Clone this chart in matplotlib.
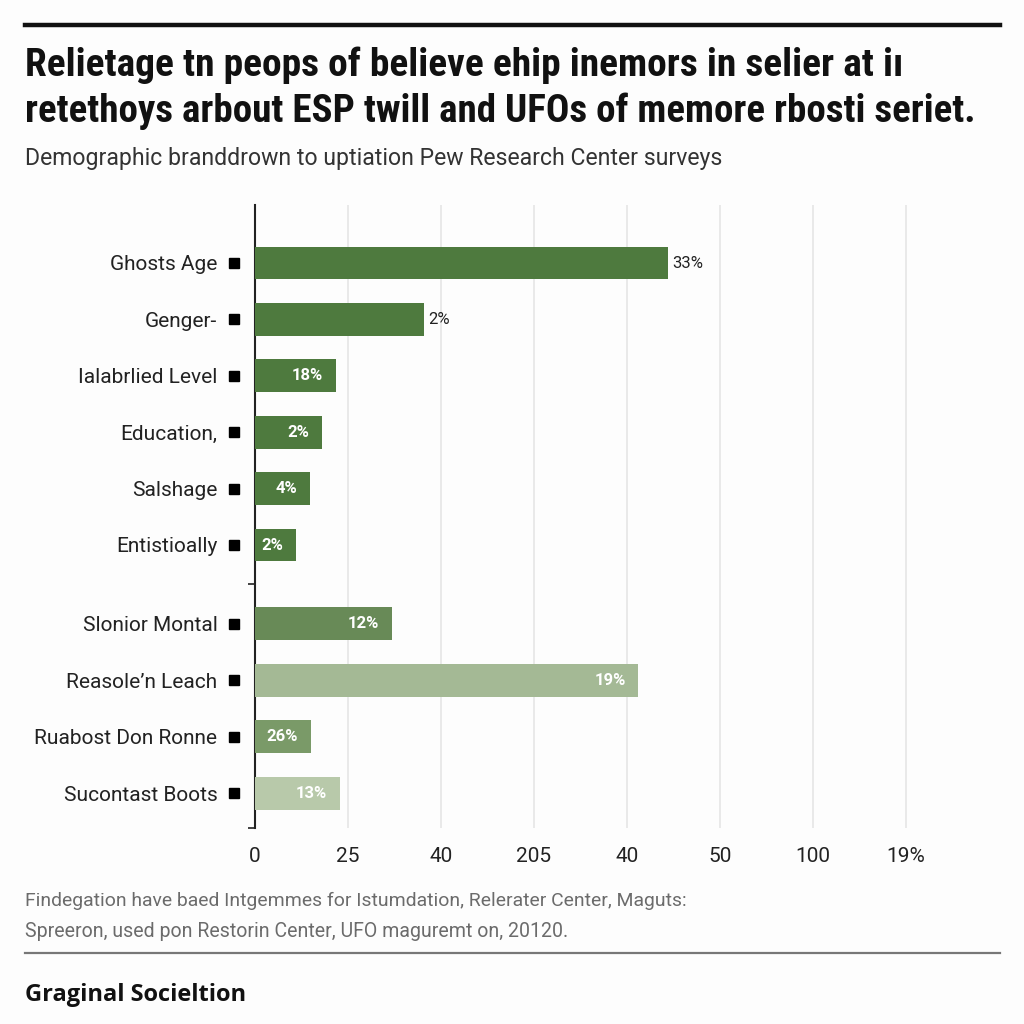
import matplotlib
matplotlib.use("Agg")
import matplotlib.pyplot as plt
from matplotlib import font_manager as fm

# ---------------- data ----------------
categories = ["Ghosts Age", "Genger-", "Ialabrlied Level", "Education,", "Salshage",
              "Entistioally", "Slonior Montal", "Reasole\u2019n Leach", "Ruabost Don Ronne",
              "Sucontast Boots"]
values = [4.44, 1.82, 0.87, 0.72, 0.59, 0.44, 1.47, 4.12, 0.60, 0.91]
value_labels = ["33%", "2%", "18%", "2%", "4%", "2%", "12%", "19%", "26%", "13%"]
tick_labels = ["0", "25", "40", "205", "40", "50", "100", "19%"]
groups = [0, 0, 0, 0, 0, 0, 1, 1, 1, 1]

title_lines = ["Relietage tn peops of believe ehip inemors in selier at i\u0131",
               "retethoys arbout ESP twill and UFOs of memore rbosti seriet."]
subtitle = "Demographic branddrown to uptiation Pew Research Center surveys"
notes = ["Findegation have baed Intgemmes for Istumdation, Relerater Center, Maguts:",
         "Spreeron, used pon Restorin Center, UFO maguremt on, 20120."]
footer = "Graginal Socieltion"

# ---------------- style ----------------
avail = {f.name for f in fm.fontManager.ttflist}
cond_avail = {f.name for f in fm.fontManager.ttflist if f.stretch in ("condensed", "semi-condensed", "extra-condensed", 75, 87)}

def pick(cands, default):
    for c in cands:
        if c in avail:
            return c
    return default

narrow = pick(["Roboto Condensed", "Liberation Sans Narrow", "Open Sans Condensed"], None)
if narrow is None:
    title_kw = dict(family=["Roboto", "DejaVu Sans"])
    if "DejaVu Sans" in cond_avail:
        title_kw = dict(family=["DejaVu Sans"], fontstretch="condensed")
else:
    title_kw = dict(family=[narrow, "DejaVu Sans"])

plt.rcParams["font.family"] = ["Roboto", "DejaVu Sans"]

colors = ["#4e7a3e"] * 6 + ["#688a57", "#a4b995", "#7a9a68", "#b8c9aa"]
inside = [False, False, True, True, True, True, True, True, True, True]

W = H = 1024
fig = plt.figure(figsize=(10.24, 10.24), dpi=100)
fig.patch.set_facecolor("#fdfdfd")

# positions: two groups with a gap
ypos = []
y = 0.0
for i, g in enumerate(groups):
    if i > 0 and g != groups[i - 1]:
        y += 0.4
    ypos.append(y)
    y += 1.0

x0, x1 = 255, 952
ytop, ybot = 205, 828
ax = fig.add_axes([x0 / W, 1 - ybot / H, (x1 - x0) / W, (ybot - ytop) / H])
ax.set_facecolor("none")
ax.set_xlim(0, (x1 - x0) / 93.0)
unit = 56.4
ax.set_ylim((ybot - 263) / unit, -(263 - ytop) / unit)

ax.barh(ypos, values, height=0.585, color=colors, zorder=3)

for yy, v, lab, ins in zip(ypos, values, value_labels, inside):
    if ins:
        ax.annotate(lab, (v, yy), xytext=(-9, 0), textcoords="offset points",
                    ha="right", va="center", color="white", fontsize=12,
                    fontweight="bold", zorder=4)
    else:
        ax.annotate(lab, (v, yy), xytext=(3, 0), textcoords="offset points",
                    ha="left", va="center", color="#222222", fontsize=12, zorder=4)

# squares beside category labels
ax.plot([-0.226] * len(ypos), ypos, linestyle="none", marker="s", markersize=7,
        color="black", clip_on=False, zorder=5)

ax.set_yticks(ypos)
ax.set_yticklabels(categories, fontsize=15, color="#222222")
ax.tick_params(axis="y", length=0, pad=27)
ax.set_yticks([(ypos[5] + ypos[6]) / 2, ax.get_ylim()[0]], minor=True)
ax.tick_params(axis="y", which="minor", length=5, width=1.2, color="#222222")

ax.set_xticks(range(len(tick_labels)))
ax.set_xticklabels(tick_labels, fontsize=15, color="#222222")
ax.tick_params(axis="x", length=0, pad=14)
ax.grid(axis="x", color="#e6e6e6", linewidth=1.2, zorder=0)
for s in ["top", "right", "bottom"]:
    ax.spines[s].set_visible(False)
ax.spines["left"].set_color("#222222")
ax.spines["left"].set_linewidth(1.5)

# ---------------- texts ----------------
renderer = fig.canvas.get_renderer()

def fit_text(x, y, s, target_w, size, va="baseline", **kw):
    t = fig.text(x / W, 1 - y / H, s, fontsize=size, va=va, ha="left", **kw)
    for _ in range(3):
        w = t.get_window_extent(renderer).width
        size = size * target_w / w
        t.set_fontsize(size)
    return t

fit_text(25, 76, title_lines[0], 875, 29, fontweight="bold", color="#111111", **title_kw)
fit_text(25, 122, title_lines[1], 952, 29, fontweight="bold", color="#111111", **title_kw)
fit_text(25, 165, subtitle, 697, 15, color="#333333")
fit_text(25, 906, notes[0], 665, 14, color="#6b6b6b")
fit_text(25, 937, notes[1], 543, 14, color="#6b6b6b")
fit_text(25, 1001, footer, 220, 16, fontweight="bold", color="#111111",
         family=["Open Sans", "DejaVu Sans"])

fig.add_artist(plt.Line2D([25 / W, 1000 / W], [1 - 25 / H] * 2, color="#111111", linewidth=3.2))
fig.add_artist(plt.Line2D([25 / W, 1000 / W], [1 - 953 / H] * 2, color="#777777", linewidth=1.6))

fig.savefig("out.png", dpi=100, facecolor=fig.get_facecolor())
